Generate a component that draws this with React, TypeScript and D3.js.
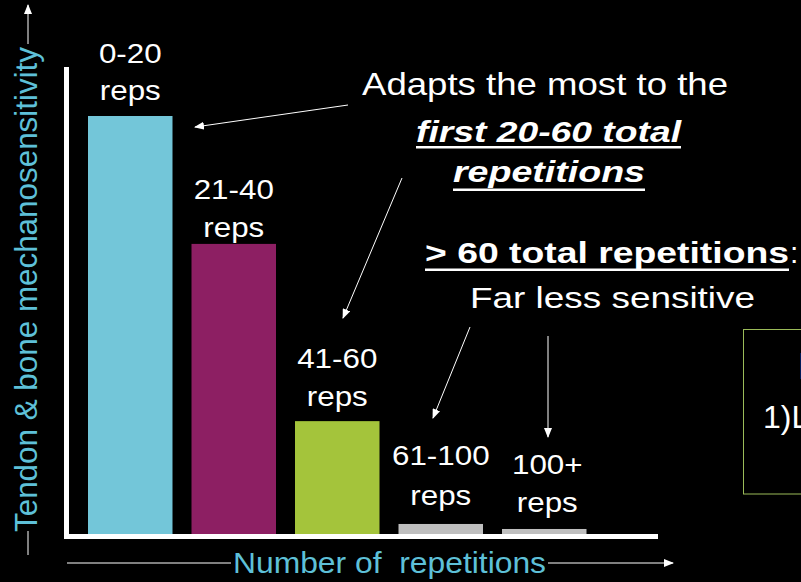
import React from "react";
import * as d3 from "d3";

const categories = ["0-20", "21-40", "41-60", "61-100", "100+"];
const values = [100, 69.4, 27, 2.4, 1.2];
const barColors = ["#73C6D9", "#8D1F63", "#A4C43B", "#BFBFBF", "#BFBFBF"];
const labelTop = ["0-20", "21-40", "41-60", "61-100", "100+"];
const labelBottom = ["reps", "reps", "reps", "reps", "reps"];
const yLabel = "Tendon & bone mechanosensitivity";
const xLabel = "Number of  repetitions";

// layout (pixel positions, not data)
const W = 801;
const H = 582;
const labelY1 = [63, 199, 368, 465, 474];
const labelY2 = [100, 237, 406, 505, 512];
const labelDx = [0, 0, 0, 0, 3];

const FONT = "'Liberation Sans', Arial, Helvetica, sans-serif";
const CYAN = "#5EC0D8";

export default function App() {
  const x = d3
    .scaleBand<string>()
    .domain(categories)
    .range([88, 586.5])
    .paddingInner(0.1836)
    .paddingOuter(0);
  const y = d3.scaleLinear().domain([0, 100]).range([534, 116]);

  const arrows = [
    [348, 105, 195, 127],
    [402, 178, 343, 318],
    [470, 327, 433, 418],
    [548, 336, 548, 437],
  ];

  return (
    <div style={{ position: "fixed", left: 0, top: 0 }}>
      <svg width={W} height={H} style={{ display: "block", background: "#000" }}>
        <defs>
          <marker
            id="ah"
            markerUnits="userSpaceOnUse"
            markerWidth={10}
            markerHeight={8}
            refX={9}
            refY={4}
            orient="auto"
          >
            <path d="M0,0 L10,4 L0,8 z" fill="#fff" />
          </marker>
        </defs>
        <rect x={0} y={0} width={W} height={H} fill="#000" />

        {/* bars */}
        {categories.map((c, i) => (
          <rect
            key={c}
            x={x(c)}
            y={y(values[i])}
            width={x.bandwidth()}
            height={y(0) - y(values[i])}
            fill={barColors[i]}
          />
        ))}

        {/* axes (white L) */}
        <rect x={64} y={67} width={5} height={472} fill="#fff" />
        <rect x={64} y={534} width={594} height={5} fill="#fff" />

        {/* bar labels */}
        {categories.map((c, i) => {
          const cx = (x(c) as number) + x.bandwidth() / 2 + labelDx[i];
          return (
            <g key={"l" + c} fontFamily={FONT} fontSize={28} fill="#fff" textAnchor="middle">
              <text transform={`translate(${cx},${labelY1[i]}) scale(1.12,1)`}>{labelTop[i]}</text>
              <text transform={`translate(${cx},${labelY2[i]}) scale(1.12,1)`}>{labelBottom[i]}</text>
            </g>
          );
        })}

        {/* y axis label with arrow */}
        <line x1={28} y1={555} x2={28} y2={531} stroke="#fff" strokeWidth={1} />
        <line x1={28} y1={44} x2={28} y2={5} stroke="#fff" strokeWidth={1} markerEnd="url(#ah)" />
        <text
          transform="translate(37,289.5) rotate(-90)"
          textAnchor="middle"
          fontFamily={FONT}
          fontSize={31}
          fill={CYAN}
          textLength={485}
          lengthAdjust="spacingAndGlyphs"
        >
          {yLabel}
        </text>

        {/* x axis label with arrow */}
        <line x1={67} y1={563} x2={231} y2={563} stroke="#fff" strokeWidth={1} />
        <line x1={548} y1={563} x2={673} y2={563} stroke="#fff" strokeWidth={1} markerEnd="url(#ah)" />
        <text
          x={389.5}
          y={573}
          textAnchor="middle"
          fontFamily={FONT}
          fontSize={30}
          fill={CYAN}
          textLength={313}
          lengthAdjust="spacingAndGlyphs"
          style={{ whiteSpace: "pre" }}
        >
          {xLabel}
        </text>

        {/* annotation arrows */}
        {arrows.map((a, i) => (
          <line
            key={"a" + i}
            x1={a[0]}
            y1={a[1]}
            x2={a[2]}
            y2={a[3]}
            stroke="#fff"
            strokeWidth={1}
            markerEnd="url(#ah)"
          />
        ))}

        {/* annotations */}
        <g fontFamily={FONT} fill="#fff" textAnchor="middle">
          <text x={545} y={95} fontSize={32} textLength={366} lengthAdjust="spacingAndGlyphs">
            Adapts the most to the
          </text>
          <text
            x={548.5}
            y={142}
            fontSize={30}
            fontWeight="bold"
            fontStyle="italic"
            textLength={265}
            lengthAdjust="spacingAndGlyphs"
          >
            first 20-60 total
          </text>
          <rect x={416} y={146} width={265} height={2.5} />
          <text
            x={549}
            y={182}
            fontSize={30}
            fontWeight="bold"
            fontStyle="italic"
            textLength={192}
            lengthAdjust="spacingAndGlyphs"
          >
            repetitions
          </text>
          <rect x={453} y={188.5} width={192} height={2.5} />

          <text
            x={607}
            y={263}
            fontSize={30}
            fontWeight="bold"
            textLength={364}
            lengthAdjust="spacingAndGlyphs"
          >
            &gt; 60 total repetitions
          </text>
          <rect x={425} y={268.5} width={364} height={2.5} />
          <text x={790} y={263} fontSize={30} textAnchor="start">
            :
          </text>
          <text x={612.5} y={308} fontSize={29} textLength={285} lengthAdjust="spacingAndGlyphs">
            Far less sensitive
          </text>
        </g>

        {/* cut-off box on the right */}
        <rect x={743.5} y={329.5} width={100} height={164.5} fill="none" stroke="#9BBB59" strokeWidth={1} />
        <text x={798} y={379} fontFamily={FONT} fontSize={36} fill="#1FA3C8">
          B
        </text>
        <text x={763} y={428} fontFamily={FONT} fontSize={32} fill="#fff">
          1)Low
        </text>
      </svg>
    </div>
  );
}
